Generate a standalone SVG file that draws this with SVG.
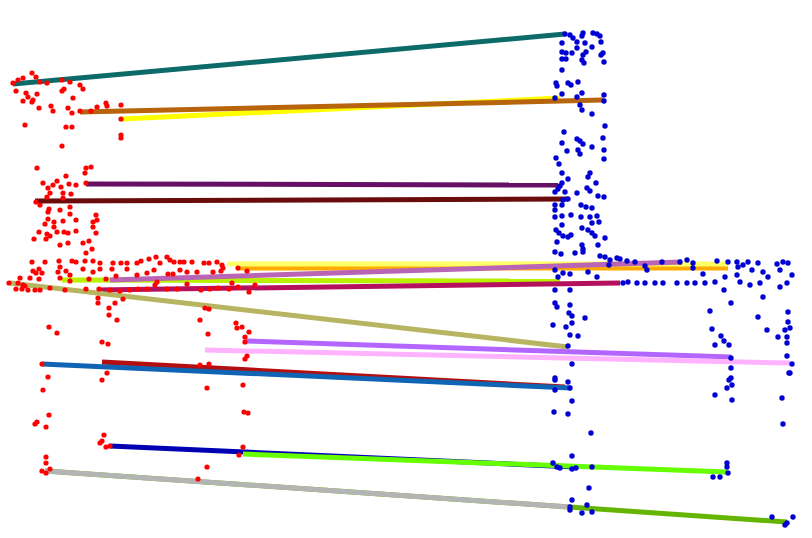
<svg xmlns="http://www.w3.org/2000/svg" width="812" height="538" viewBox="0 0 812 538">
<style>
.c line{stroke-width:5;fill:none;stroke-linecap:butt}
.r circle{fill:#ff0000}
.b circle{fill:#0000d2}
</style>
<rect width="812" height="538" fill="#ffffff"/>
<g id="connectors" class="c">
<line x1="13" y1="84" x2="565" y2="34" stroke="#0c6a68"/>
<line x1="122" y1="119" x2="560" y2="98" stroke="#ffff00"/>
<line x1="80" y1="112" x2="603" y2="100" stroke="#b8640c"/>
<line x1="86" y1="184" x2="558" y2="185" stroke="#650f65"/>
<line x1="35" y1="201" x2="568" y2="199" stroke="#6a0c0c"/>
<line x1="237" y1="268" x2="728" y2="268" stroke="#ffaa00"/>
<line x1="227" y1="264" x2="728" y2="264" stroke="#ffff66"/>
<line x1="62" y1="280" x2="560" y2="281" stroke="#b8f000"/>
<line x1="110" y1="280" x2="682" y2="262" stroke="#b964b4"/>
<line x1="97" y1="290" x2="620" y2="283" stroke="#b5105e"/>
<line x1="10" y1="283" x2="568" y2="347" stroke="#b8b562"/>
<line x1="246" y1="341" x2="731" y2="357" stroke="#b366ff"/>
<line x1="205" y1="350" x2="790" y2="363" stroke="#ffb3ff"/>
<line x1="102" y1="362" x2="565" y2="387" stroke="#b40f0f"/>
<line x1="42" y1="364" x2="571" y2="388" stroke="#0f64b4"/>
<line x1="110" y1="446" x2="575" y2="467" stroke="#0000b4"/>
<line x1="243" y1="454" x2="727" y2="472" stroke="#66ff00"/>
<line x1="45" y1="471" x2="787" y2="522" stroke="#64b400"/>
<line x1="45" y1="471" x2="570" y2="507" stroke="#b4b4b4"/>
</g>
<g id="source-points" class="r">
<circle cx="13" cy="83" r="2.6"/><circle cx="18" cy="80" r="2.6"/><circle cx="23" cy="78" r="2.6"/><circle cx="32" cy="73" r="2.6"/><circle cx="36" cy="77" r="2.6"/><circle cx="16" cy="91" r="2.6"/><circle cx="26" cy="93" r="2.6"/><circle cx="23" cy="101" r="2.6"/><circle cx="28" cy="97" r="2.6"/><circle cx="33" cy="100" r="2.6"/><circle cx="32" cy="102" r="2.6"/><circle cx="37" cy="94" r="2.6"/><circle cx="40" cy="82" r="2.6"/><circle cx="47" cy="83" r="2.6"/><circle cx="62" cy="80" r="2.6"/><circle cx="70" cy="82" r="2.6"/><circle cx="80" cy="85" r="2.6"/><circle cx="83" cy="89" r="2.6"/><circle cx="62" cy="91" r="2.6"/><circle cx="64" cy="89" r="2.6"/><circle cx="73" cy="98" r="2.6"/><circle cx="39" cy="108" r="2.6"/><circle cx="51" cy="106" r="2.6"/><circle cx="53" cy="111" r="2.6"/><circle cx="68" cy="108" r="2.6"/><circle cx="72" cy="113" r="2.6"/><circle cx="80" cy="111" r="2.6"/><circle cx="91" cy="111" r="2.6"/><circle cx="97" cy="107" r="2.6"/><circle cx="106" cy="103" r="2.6"/><circle cx="107" cy="106" r="2.6"/><circle cx="121" cy="105" r="2.6"/><circle cx="121" cy="119" r="2.6"/><circle cx="121" cy="135" r="2.6"/><circle cx="121" cy="138" r="2.6"/><circle cx="25" cy="125" r="2.6"/><circle cx="66" cy="127" r="2.6"/><circle cx="72" cy="127" r="2.6"/><circle cx="62" cy="146" r="2.6"/>
<circle cx="37" cy="168" r="2.6"/><circle cx="86" cy="168" r="2.6"/><circle cx="91" cy="167" r="2.6"/><circle cx="85" cy="173" r="2.6"/><circle cx="43" cy="183" r="2.6"/><circle cx="48" cy="188" r="2.6"/><circle cx="57" cy="181" r="2.6"/><circle cx="53" cy="185" r="2.6"/><circle cx="61" cy="187" r="2.6"/><circle cx="66" cy="176" r="2.6"/><circle cx="69" cy="184" r="2.6"/><circle cx="76" cy="185" r="2.6"/><circle cx="86" cy="183" r="2.6"/><circle cx="50" cy="193" r="2.6"/><circle cx="47" cy="197" r="2.6"/><circle cx="63" cy="193" r="2.6"/><circle cx="71" cy="194" r="2.6"/><circle cx="36" cy="202" r="2.6"/><circle cx="40" cy="205" r="2.6"/><circle cx="63" cy="198" r="2.6"/><circle cx="49" cy="209" r="2.6"/><circle cx="48" cy="212" r="2.6"/><circle cx="60" cy="210" r="2.6"/><circle cx="70" cy="207" r="2.6"/><circle cx="70" cy="214" r="2.6"/><circle cx="96" cy="215" r="2.6"/><circle cx="48" cy="219" r="2.6"/><circle cx="54" cy="222" r="2.6"/><circle cx="63" cy="221" r="2.6"/><circle cx="76" cy="220" r="2.6"/><circle cx="93" cy="222" r="2.6"/><circle cx="97" cy="220" r="2.6"/><circle cx="45" cy="224" r="2.6"/><circle cx="54" cy="227" r="2.6"/><circle cx="93" cy="227" r="2.6"/><circle cx="39" cy="232" r="2.6"/><circle cx="47" cy="234" r="2.6"/><circle cx="50" cy="236" r="2.6"/><circle cx="57" cy="232" r="2.6"/><circle cx="64" cy="232" r="2.6"/><circle cx="68" cy="233" r="2.6"/><circle cx="76" cy="231" r="2.6"/><circle cx="96" cy="233" r="2.6"/><circle cx="34" cy="239" r="2.6"/><circle cx="46" cy="239" r="2.6"/><circle cx="60" cy="245" r="2.6"/><circle cx="68" cy="243" r="2.6"/><circle cx="83" cy="243" r="2.6"/><circle cx="89" cy="241" r="2.6"/><circle cx="92" cy="249" r="2.6"/><circle cx="86" cy="253" r="2.6"/>
<circle cx="32" cy="262" r="2.6"/><circle cx="45" cy="262" r="2.6"/><circle cx="59" cy="261" r="2.6"/><circle cx="72" cy="261" r="2.6"/><circle cx="76" cy="262" r="2.6"/><circle cx="85" cy="261" r="2.6"/><circle cx="93" cy="261" r="2.6"/><circle cx="100" cy="263" r="2.6"/><circle cx="113" cy="263" r="2.6"/><circle cx="121" cy="263" r="2.6"/><circle cx="127" cy="263" r="2.6"/><circle cx="137" cy="263" r="2.6"/><circle cx="141" cy="261" r="2.6"/><circle cx="149" cy="259" r="2.6"/><circle cx="156" cy="257" r="2.6"/><circle cx="160" cy="263" r="2.6"/><circle cx="167" cy="257" r="2.6"/><circle cx="170" cy="260" r="2.6"/><circle cx="174" cy="262" r="2.6"/><circle cx="180" cy="262" r="2.6"/><circle cx="184" cy="262" r="2.6"/><circle cx="192" cy="262" r="2.6"/><circle cx="204" cy="263" r="2.6"/><circle cx="209" cy="263" r="2.6"/><circle cx="217" cy="262" r="2.6"/><circle cx="222" cy="265" r="2.6"/><circle cx="238" cy="268" r="2.6"/><circle cx="247" cy="271" r="2.6"/><circle cx="33" cy="271" r="2.6"/><circle cx="36" cy="273" r="2.6"/><circle cx="39" cy="269" r="2.6"/><circle cx="42" cy="273" r="2.6"/><circle cx="60" cy="267" r="2.6"/><circle cx="58" cy="272" r="2.6"/><circle cx="66" cy="271" r="2.6"/><circle cx="70" cy="275" r="2.6"/><circle cx="83" cy="269" r="2.6"/><circle cx="93" cy="272" r="2.6"/><circle cx="100" cy="269" r="2.6"/><circle cx="112" cy="269" r="2.6"/><circle cx="116" cy="276" r="2.6"/><circle cx="127" cy="269" r="2.6"/><circle cx="137" cy="275" r="2.6"/><circle cx="147" cy="273" r="2.6"/><circle cx="154" cy="270" r="2.6"/><circle cx="168" cy="274" r="2.6"/><circle cx="173" cy="274" r="2.6"/><circle cx="180" cy="270" r="2.6"/><circle cx="187" cy="272" r="2.6"/><circle cx="197" cy="272" r="2.6"/><circle cx="213" cy="272" r="2.6"/><circle cx="221" cy="271" r="2.6"/><circle cx="223" cy="268" r="2.6"/><circle cx="30" cy="278" r="2.6"/><circle cx="39" cy="279" r="2.6"/><circle cx="60" cy="278" r="2.6"/><circle cx="70" cy="281" r="2.6"/><circle cx="89" cy="279" r="2.6"/><circle cx="106" cy="279" r="2.6"/><circle cx="20" cy="278" r="2.6"/><circle cx="18" cy="283" r="2.6"/><circle cx="23" cy="285" r="2.6"/><circle cx="9" cy="283" r="2.6"/><circle cx="16" cy="289" r="2.6"/><circle cx="25" cy="286" r="2.6"/><circle cx="22" cy="289" r="2.6"/><circle cx="28" cy="290" r="2.6"/><circle cx="35" cy="290" r="2.6"/><circle cx="40" cy="290" r="2.6"/><circle cx="50" cy="288" r="2.6"/><circle cx="65" cy="290" r="2.6"/><circle cx="86" cy="289" r="2.6"/><circle cx="99" cy="289" r="2.6"/><circle cx="110" cy="290" r="2.6"/><circle cx="120" cy="291" r="2.6"/><circle cx="130" cy="290" r="2.6"/><circle cx="138" cy="289" r="2.6"/><circle cx="147" cy="289" r="2.6"/><circle cx="155" cy="285" r="2.6"/><circle cx="157" cy="282" r="2.6"/><circle cx="167" cy="289" r="2.6"/><circle cx="177" cy="289" r="2.6"/><circle cx="187" cy="284" r="2.6"/><circle cx="201" cy="290" r="2.6"/><circle cx="210" cy="289" r="2.6"/><circle cx="218" cy="288" r="2.6"/><circle cx="229" cy="289" r="2.6"/><circle cx="232" cy="283" r="2.6"/><circle cx="238" cy="287" r="2.6"/><circle cx="249" cy="292" r="2.6"/><circle cx="255" cy="285" r="2.6"/>
<circle cx="98" cy="298" r="2.6"/><circle cx="98" cy="303" r="2.6"/><circle cx="115" cy="303" r="2.6"/><circle cx="123" cy="299" r="2.6"/><circle cx="109" cy="308" r="2.6"/><circle cx="109" cy="315" r="2.6"/><circle cx="117" cy="320" r="2.6"/><circle cx="49" cy="327" r="2.6"/><circle cx="57" cy="333" r="2.6"/><circle cx="102" cy="342" r="2.6"/><circle cx="108" cy="344" r="2.6"/><circle cx="205" cy="308" r="2.6"/><circle cx="209" cy="309" r="2.6"/><circle cx="200" cy="320" r="2.6"/><circle cx="208" cy="334" r="2.6"/><circle cx="236" cy="323" r="2.6"/><circle cx="242" cy="327" r="2.6"/><circle cx="237" cy="328" r="2.6"/><circle cx="249" cy="332" r="2.6"/><circle cx="245" cy="337" r="2.6"/><circle cx="245" cy="342" r="2.6"/><circle cx="247" cy="356" r="2.6"/><circle cx="245" cy="359" r="2.6"/><circle cx="42" cy="364" r="2.6"/><circle cx="48" cy="377" r="2.6"/><circle cx="102" cy="380" r="2.6"/><circle cx="107" cy="373" r="2.6"/><circle cx="200" cy="365" r="2.6"/><circle cx="209" cy="364" r="2.6"/><circle cx="43" cy="390" r="2.6"/><circle cx="49" cy="415" r="2.6"/><circle cx="37" cy="422" r="2.6"/><circle cx="35" cy="424" r="2.6"/><circle cx="46" cy="427" r="2.6"/><circle cx="207" cy="388" r="2.6"/><circle cx="243" cy="385" r="2.6"/><circle cx="244" cy="412" r="2.6"/><circle cx="248" cy="413" r="2.6"/><circle cx="104" cy="435" r="2.6"/><circle cx="102" cy="441" r="2.6"/><circle cx="100" cy="443" r="2.6"/><circle cx="106" cy="447" r="2.6"/><circle cx="110" cy="446" r="2.6"/><circle cx="46" cy="457" r="2.6"/><circle cx="46" cy="463" r="2.6"/><circle cx="42" cy="471" r="2.6"/><circle cx="46" cy="473" r="2.6"/><circle cx="50" cy="469" r="2.6"/><circle cx="243" cy="447" r="2.6"/><circle cx="239" cy="455" r="2.6"/><circle cx="207" cy="467" r="2.6"/><circle cx="198" cy="479" r="2.6"/>
</g>
<g id="target-points" class="b">
<circle cx="565" cy="34" r="2.7"/><circle cx="570" cy="35" r="2.7"/><circle cx="573" cy="38" r="2.7"/><circle cx="583" cy="33" r="2.7"/><circle cx="582" cy="36" r="2.7"/><circle cx="593" cy="33" r="2.7"/><circle cx="597" cy="34" r="2.7"/><circle cx="600" cy="36" r="2.7"/><circle cx="577" cy="42" r="2.7"/><circle cx="585" cy="43" r="2.7"/><circle cx="562" cy="43" r="2.7"/><circle cx="601" cy="42" r="2.7"/><circle cx="592" cy="47" r="2.7"/><circle cx="586" cy="52" r="2.7"/><circle cx="562" cy="52" r="2.7"/><circle cx="566" cy="53" r="2.7"/><circle cx="572" cy="53" r="2.7"/><circle cx="577" cy="48" r="2.7"/><circle cx="603" cy="53" r="2.7"/><circle cx="601" cy="55" r="2.7"/><circle cx="583" cy="55" r="2.7"/><circle cx="582" cy="60" r="2.7"/><circle cx="584" cy="63" r="2.7"/><circle cx="562" cy="59" r="2.7"/><circle cx="566" cy="59" r="2.7"/><circle cx="604" cy="62" r="2.7"/><circle cx="562" cy="70" r="2.7"/><circle cx="556" cy="83" r="2.7"/><circle cx="557" cy="86" r="2.7"/><circle cx="568" cy="83" r="2.7"/><circle cx="571" cy="85" r="2.7"/><circle cx="578" cy="82" r="2.7"/><circle cx="582" cy="93" r="2.7"/><circle cx="562" cy="94" r="2.7"/><circle cx="577" cy="97" r="2.7"/><circle cx="555" cy="98" r="2.7"/><circle cx="604" cy="95" r="2.7"/><circle cx="604" cy="101" r="2.7"/><circle cx="580" cy="105" r="2.7"/><circle cx="582" cy="110" r="2.7"/><circle cx="592" cy="114" r="2.7"/><circle cx="605" cy="126" r="2.7"/><circle cx="603" cy="138" r="2.7"/><circle cx="564" cy="132" r="2.7"/><circle cx="562" cy="143" r="2.7"/><circle cx="577" cy="139" r="2.7"/><circle cx="580" cy="141" r="2.7"/><circle cx="583" cy="144" r="2.7"/><circle cx="592" cy="147" r="2.7"/><circle cx="567" cy="151" r="2.7"/><circle cx="578" cy="150" r="2.7"/><circle cx="580" cy="154" r="2.7"/><circle cx="604" cy="150" r="2.7"/><circle cx="604" cy="159" r="2.7"/><circle cx="556" cy="158" r="2.7"/><circle cx="559" cy="164" r="2.7"/><circle cx="562" cy="173" r="2.7"/><circle cx="590" cy="173" r="2.7"/><circle cx="588" cy="177" r="2.7"/><circle cx="568" cy="179" r="2.7"/><circle cx="596" cy="183" r="2.7"/><circle cx="562" cy="183" r="2.7"/><circle cx="560" cy="186" r="2.7"/><circle cx="558" cy="189" r="2.7"/><circle cx="587" cy="188" r="2.7"/><circle cx="590" cy="191" r="2.7"/><circle cx="555" cy="192" r="2.7"/><circle cx="565" cy="192" r="2.7"/><circle cx="577" cy="193" r="2.7"/><circle cx="598" cy="196" r="2.7"/><circle cx="604" cy="197" r="2.7"/><circle cx="563" cy="200" r="2.7"/><circle cx="568" cy="199" r="2.7"/><circle cx="555" cy="205" r="2.7"/><circle cx="562" cy="205" r="2.7"/><circle cx="581" cy="205" r="2.7"/><circle cx="586" cy="207" r="2.7"/><circle cx="592" cy="208" r="2.7"/><circle cx="555" cy="210" r="2.7"/><circle cx="562" cy="216" r="2.7"/><circle cx="571" cy="215" r="2.7"/><circle cx="581" cy="217" r="2.7"/><circle cx="590" cy="217" r="2.7"/><circle cx="597" cy="216" r="2.7"/><circle cx="599" cy="222" r="2.7"/><circle cx="555" cy="217" r="2.7"/><circle cx="562" cy="225" r="2.7"/><circle cx="592" cy="223" r="2.7"/><circle cx="556" cy="230" r="2.7"/><circle cx="559" cy="233" r="2.7"/><circle cx="563" cy="236" r="2.7"/><circle cx="568" cy="237" r="2.7"/><circle cx="571" cy="235" r="2.7"/><circle cx="582" cy="228" r="2.7"/><circle cx="588" cy="230" r="2.7"/><circle cx="592" cy="233" r="2.7"/><circle cx="595" cy="236" r="2.7"/><circle cx="605" cy="238" r="2.7"/><circle cx="557" cy="242" r="2.7"/><circle cx="598" cy="245" r="2.7"/><circle cx="555" cy="252" r="2.7"/><circle cx="561" cy="254" r="2.7"/><circle cx="575" cy="253" r="2.7"/><circle cx="582" cy="245" r="2.7"/><circle cx="583" cy="249" r="2.7"/><circle cx="600" cy="256" r="2.7"/><circle cx="605" cy="257" r="2.7"/><circle cx="617" cy="258" r="2.7"/>
<circle cx="583" cy="252" r="2.7"/><circle cx="610" cy="260" r="2.7"/><circle cx="620" cy="259" r="2.7"/><circle cx="627" cy="261" r="2.7"/><circle cx="635" cy="262" r="2.7"/><circle cx="645" cy="266" r="2.7"/><circle cx="647" cy="270" r="2.7"/><circle cx="662" cy="262" r="2.7"/><circle cx="680" cy="262" r="2.7"/><circle cx="687" cy="260" r="2.7"/><circle cx="693" cy="263" r="2.7"/><circle cx="693" cy="268" r="2.7"/><circle cx="703" cy="274" r="2.7"/><circle cx="717" cy="261" r="2.7"/><circle cx="728" cy="262" r="2.7"/><circle cx="737" cy="262" r="2.7"/><circle cx="738" cy="267" r="2.7"/><circle cx="743" cy="265" r="2.7"/><circle cx="748" cy="262" r="2.7"/><circle cx="752" cy="270" r="2.7"/><circle cx="758" cy="263" r="2.7"/><circle cx="763" cy="272" r="2.7"/><circle cx="768" cy="277" r="2.7"/><circle cx="777" cy="264" r="2.7"/><circle cx="783" cy="262" r="2.7"/><circle cx="788" cy="263" r="2.7"/><circle cx="780" cy="270" r="2.7"/><circle cx="792" cy="275" r="2.7"/><circle cx="609" cy="265" r="2.7"/><circle cx="555" cy="270" r="2.7"/><circle cx="563" cy="273" r="2.7"/><circle cx="558" cy="277" r="2.7"/><circle cx="570" cy="274" r="2.7"/><circle cx="588" cy="272" r="2.7"/><circle cx="597" cy="277" r="2.7"/><circle cx="623" cy="283" r="2.7"/><circle cx="628" cy="282" r="2.7"/><circle cx="637" cy="283" r="2.7"/><circle cx="645" cy="283" r="2.7"/><circle cx="655" cy="283" r="2.7"/><circle cx="663" cy="283" r="2.7"/><circle cx="677" cy="283" r="2.7"/><circle cx="687" cy="283" r="2.7"/><circle cx="695" cy="283" r="2.7"/><circle cx="705" cy="283" r="2.7"/><circle cx="715" cy="282" r="2.7"/><circle cx="725" cy="277" r="2.7"/><circle cx="737" cy="275" r="2.7"/><circle cx="750" cy="285" r="2.7"/><circle cx="740" cy="282" r="2.7"/><circle cx="760" cy="283" r="2.7"/><circle cx="780" cy="287" r="2.7"/><circle cx="787" cy="283" r="2.7"/><circle cx="555" cy="290" r="2.7"/><circle cx="570" cy="290" r="2.7"/><circle cx="724" cy="290" r="2.7"/><circle cx="763" cy="297" r="2.7"/><circle cx="731" cy="303" r="2.7"/><circle cx="555" cy="303" r="2.7"/><circle cx="557" cy="307" r="2.7"/><circle cx="570" cy="305" r="2.7"/><circle cx="569" cy="313" r="2.7"/><circle cx="572" cy="316" r="2.7"/><circle cx="553" cy="325" r="2.7"/><circle cx="566" cy="327" r="2.7"/><circle cx="572" cy="323" r="2.7"/><circle cx="585" cy="318" r="2.7"/><circle cx="758" cy="317" r="2.7"/><circle cx="788" cy="312" r="2.7"/><circle cx="788" cy="322" r="2.7"/><circle cx="710" cy="311" r="2.7"/><circle cx="712" cy="329" r="2.7"/><circle cx="721" cy="336" r="2.7"/><circle cx="724" cy="341" r="2.7"/><circle cx="729" cy="345" r="2.7"/><circle cx="715" cy="345" r="2.7"/><circle cx="767" cy="330" r="2.7"/><circle cx="778" cy="337" r="2.7"/><circle cx="787" cy="337" r="2.7"/><circle cx="785" cy="330" r="2.7"/><circle cx="790" cy="328" r="2.7"/><circle cx="787" cy="343" r="2.7"/><circle cx="570" cy="335" r="2.7"/><circle cx="578" cy="336" r="2.7"/><circle cx="568" cy="346" r="2.7"/><circle cx="787" cy="356" r="2.7"/><circle cx="792" cy="364" r="2.7"/><circle cx="789" cy="373" r="2.7"/><circle cx="731" cy="358" r="2.7"/><circle cx="731" cy="368" r="2.7"/><circle cx="572" cy="364" r="2.7"/><circle cx="555" cy="378" r="2.7"/><circle cx="731" cy="378" r="2.7"/>
<circle cx="555" cy="380" r="2.7"/><circle cx="568" cy="382" r="2.7"/><circle cx="570" cy="388" r="2.7"/><circle cx="555" cy="390" r="2.7"/><circle cx="572" cy="401" r="2.7"/><circle cx="554" cy="412" r="2.7"/><circle cx="568" cy="414" r="2.7"/><circle cx="591" cy="433" r="2.7"/><circle cx="572" cy="456" r="2.7"/><circle cx="553" cy="463" r="2.7"/><circle cx="557" cy="467" r="2.7"/><circle cx="560" cy="468" r="2.7"/><circle cx="572" cy="469" r="2.7"/><circle cx="576" cy="468" r="2.7"/><circle cx="592" cy="467" r="2.7"/><circle cx="589" cy="488" r="2.7"/><circle cx="572" cy="500" r="2.7"/><circle cx="570" cy="507" r="2.7"/><circle cx="570" cy="510" r="2.7"/><circle cx="587" cy="505" r="2.7"/><circle cx="592" cy="512" r="2.7"/><circle cx="582" cy="513" r="2.7"/><circle cx="727" cy="463" r="2.7"/><circle cx="727" cy="467" r="2.7"/><circle cx="728" cy="473" r="2.7"/><circle cx="720" cy="477" r="2.7"/><circle cx="713" cy="477" r="2.7"/><circle cx="715" cy="395" r="2.7"/><circle cx="729" cy="380" r="2.7"/><circle cx="732" cy="385" r="2.7"/><circle cx="727" cy="388" r="2.7"/><circle cx="732" cy="400" r="2.7"/><circle cx="782" cy="398" r="2.7"/><circle cx="783" cy="424" r="2.7"/><circle cx="790" cy="373" r="2.7"/><circle cx="772" cy="517" r="2.7"/><circle cx="787" cy="523" r="2.7"/><circle cx="793" cy="517" r="2.7"/><circle cx="785" cy="525" r="2.7"/>
</g>
</svg>
